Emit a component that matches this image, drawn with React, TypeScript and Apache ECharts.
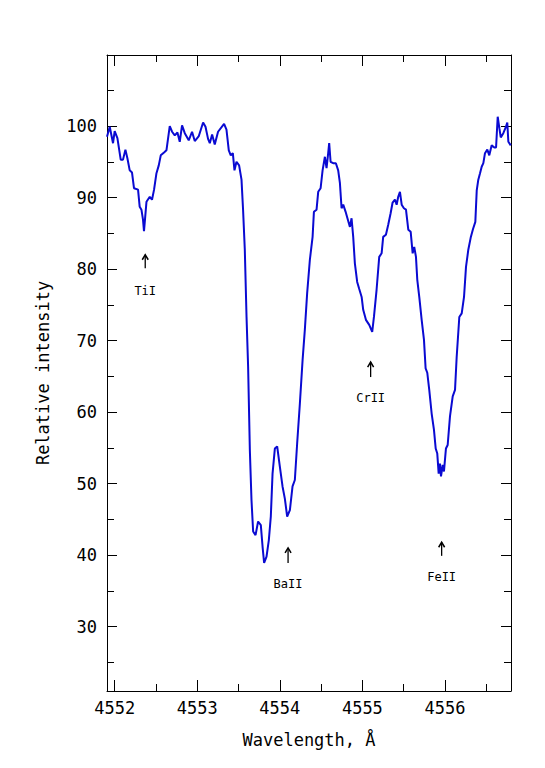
import React, { useEffect, useRef } from 'react';
import * as echarts from 'echarts';

// Spectrum (wavelength in Å, relative intensity)
const wavelength = [
  4551.907, 4551.94, 4551.98, 4552.0, 4552.033, 4552.073, 4552.101, 4552.13, 4552.154, 4552.182,
  4552.21, 4552.234, 4552.283, 4552.303, 4552.324, 4552.343, 4552.355, 4552.372, 4552.385, 4552.425,
  4552.452, 4552.477, 4552.506, 4552.534, 4552.558, 4552.598, 4552.627, 4552.667, 4552.695, 4552.728,
  4552.76, 4552.788, 4552.816, 4552.849, 4552.897, 4552.937, 4552.97, 4553.019, 4553.071, 4553.1,
  4553.131, 4553.152, 4553.18, 4553.212, 4553.252, 4553.325, 4553.354, 4553.382, 4553.406, 4553.431,
  4553.451, 4553.475, 4553.507, 4553.536, 4553.555, 4553.576, 4553.597, 4553.616, 4553.637, 4553.657,
  4553.677, 4553.706, 4553.737, 4553.77, 4553.791, 4553.81, 4553.839, 4553.867, 4553.891, 4553.912,
  4553.94, 4553.968, 4554.0, 4554.033, 4554.061, 4554.089, 4554.122, 4554.154, 4554.182, 4554.21,
  4554.243, 4554.276, 4554.303, 4554.331, 4554.364, 4554.397, 4554.413, 4554.445, 4554.465, 4554.494,
  4554.518, 4554.546, 4554.566, 4554.586, 4554.598, 4554.615, 4554.646, 4554.679, 4554.707, 4554.728,
  4554.748, 4554.768, 4554.797, 4554.819, 4554.849, 4554.869, 4554.889, 4554.909, 4554.937, 4554.962,
  4554.991, 4555.01, 4555.043, 4555.083, 4555.119, 4555.14, 4555.172, 4555.204, 4555.233, 4555.252,
  4555.285, 4555.313, 4555.342, 4555.366, 4555.394, 4555.415, 4555.434, 4555.455, 4555.476, 4555.503,
  4555.528, 4555.556, 4555.585, 4555.609, 4555.628, 4555.649, 4555.665, 4555.689, 4555.718, 4555.746,
  4555.766, 4555.786, 4555.81, 4555.839, 4555.867, 4555.888, 4555.907, 4555.924, 4555.94, 4555.952,
  4555.973, 4555.988, 4556.012, 4556.033, 4556.061, 4556.094, 4556.122, 4556.142, 4556.174, 4556.203,
  4556.231, 4556.255, 4556.283, 4556.312, 4556.34, 4556.368, 4556.385, 4556.404, 4556.425, 4556.445,
  4556.465, 4556.485, 4556.513, 4556.537, 4556.566, 4556.598, 4556.619, 4556.639, 4556.659, 4556.676,
  4556.707, 4556.736, 4556.755, 4556.768, 4556.797,
];
const intensity = [
  98.5, 99.9, 97.6, 99.3, 98.3, 95.3, 95.3, 96.7, 95.5, 93.8,
  93.5, 91.3, 91.1, 88.7, 88.3, 86.9, 85.3, 87.6, 89.4, 90.1,
  89.7, 91.1, 93.4, 94.5, 95.9, 96.3, 96.6, 100.0, 99.2, 98.7,
  99.1, 97.8, 100.1, 99.0, 98.0, 99.2, 97.9, 98.6, 100.5, 99.9,
  98.2, 97.6, 98.8, 97.4, 99.2, 100.3, 99.5, 96.6, 95.9, 96.2,
  93.8, 95.0, 94.5, 92.5, 88.3, 82.7, 73.3, 66.4, 54.7, 47.7,
  43.3, 42.8, 44.7, 44.2, 41.2, 38.9, 39.8, 42.1, 45.4, 51.4,
  54.9, 55.2, 52.4, 49.6, 47.9, 45.4, 46.3, 49.6, 50.5, 55.6,
  61.2, 67.3, 71.5, 76.6, 81.3, 84.5, 88.0, 88.3, 90.8, 91.3,
  93.8, 95.7, 94.1, 96.2, 97.6, 95.0, 94.8, 94.8, 93.8, 92.0,
  88.5, 89.0, 88.0, 87.1, 85.9, 87.1, 84.5, 80.8, 78.2, 77.2,
  76.1, 74.3, 72.9, 72.2, 71.2, 73.3, 77.1, 81.7, 82.2, 84.5,
  84.8, 86.2, 87.8, 89.3, 89.7, 89.0, 90.1, 90.8, 89.0, 88.5,
  88.3, 85.5, 85.2, 82.2, 83.1, 81.7, 78.5, 76.1, 72.9, 70.1,
  66.1, 65.5, 63.1, 59.8, 57.5, 54.9, 54.2, 51.4, 52.8, 51.0,
  52.6, 51.7, 54.9, 55.4, 59.4, 62.2, 63.1, 67.7, 73.3, 73.8,
  76.1, 80.3, 82.7, 84.4, 85.6, 86.6, 91.0, 92.5, 93.4, 94.3,
  94.8, 96.2, 96.7, 95.9, 97.3, 97.0, 97.0, 101.3, 99.7, 98.4,
  99.0, 99.8, 100.5, 97.8, 97.3,
];

// Tick labels
const xTicks = [4552, 4553, 4554, 4555, 4556];
const yTicks = [30, 40, 50, 60, 70, 80, 90, 100];

// Line identifications
const lineNames = ['TiI', 'BaII', 'CrII', 'FeII'];
const lineWavelength = [4552.37, 4554.1, 4555.1, 4555.96];
const arrowTip = [82.0, 41.0, 67.0, 41.8];
const arrowBase = [80.1, 38.9, 64.9, 39.9];
const labelLevel = [76.9, 35.9, 62.0, 36.9];

const X_MIN = 4551.907;
const X_MAX = 4556.8;
const Y_MIN = 21;
const Y_MAX = 109.93;

const FONT = '"DejaVu Sans Mono", "Liberation Mono", monospace';

export default function App() {
  const ref = useRef<HTMLDivElement>(null);

  useEffect(() => {
    if (!ref.current) return;
    const chart = echarts.init(ref.current, undefined, { renderer: 'svg' });

    const baseX = {
      type: 'value' as const,
      min: X_MIN,
      max: X_MAX,
      minInterval: 1,
      maxInterval: 1,
      splitLine: { show: false },
      axisLine: { show: true, onZero: false, lineStyle: { color: '#000', width: 1 } },
      axisTick: { show: true, inside: true, length: 11, lineStyle: { color: '#000', width: 1 } },
      minorTick: { show: true, splitNumber: 2, length: 7, lineStyle: { color: '#000', width: 1 } },
    };
    const baseY = {
      type: 'value' as const,
      min: Y_MIN,
      max: Y_MAX,
      minInterval: 10,
      maxInterval: 10,
      splitLine: { show: false },
      axisLine: { show: true, onZero: false, lineStyle: { color: '#000', width: 1 } },
      axisTick: { show: true, inside: true, length: 10, lineStyle: { color: '#000', width: 1 } },
      minorTick: { show: true, splitNumber: 2, length: 7, lineStyle: { color: '#000', width: 1 } },
    };

    chart.setOption({
      animation: false,
      backgroundColor: '#fff',
      grid: { left: 107, top: 55, width: 404, height: 636 },
      xAxis: [
        {
          ...baseX,
          position: 'bottom',
          name: 'Wavelength, Å',
          nameLocation: 'middle',
          nameGap: 40,
          nameTextStyle: { fontFamily: FONT, fontSize: 17, color: '#000' },
          axisLabel: {
            show: true,
            margin: 8,
            fontFamily: FONT,
            fontSize: 17,
            color: '#000',
            showMinLabel: false,
            showMaxLabel: false,
            formatter: (v: number) => (xTicks.includes(v) ? String(v) : ''),
          },
        },
        { ...baseX, position: 'top', axisLabel: { show: false } },
      ],
      yAxis: [
        {
          ...baseY,
          position: 'left',
          name: 'Relative intensity',
          nameLocation: 'middle',
          nameGap: 56,
          nameTextStyle: { fontFamily: FONT, fontSize: 17, color: '#000' },
          axisLabel: {
            show: true,
            margin: 10,
            fontFamily: FONT,
            fontSize: 17,
            color: '#000',
            showMinLabel: false,
            showMaxLabel: false,
            formatter: (v: number) => (yTicks.includes(v) ? String(v) : ''),
          },
        },
        { ...baseY, position: 'right', axisLabel: { show: false } },
      ],
      series: [
        {
          type: 'line',
          xAxisIndex: 0,
          yAxisIndex: 0,
          data: wavelength.map((w, i) => [w, intensity[i]]),
          showSymbol: false,
          symbol: 'none',
          clip: true,
          lineStyle: { color: '#0a0ad2', width: 2 },
          silent: true,
        },
        {
          type: 'custom',
          xAxisIndex: 0,
          yAxisIndex: 0,
          silent: true,
          z: 5,
          data: lineNames.map((_, i) => [lineWavelength[i], arrowTip[i], arrowBase[i], labelLevel[i]]),
          renderItem: (params: any, api: any) => {
            const x = api.value(0);
            const tip = api.coord([x, api.value(1)]);
            const base = api.coord([x, api.value(2)]);
            const lab = api.coord([x, api.value(3)]);
            return {
              type: 'group',
              children: [
                {
                  type: 'line',
                  shape: { x1: tip[0], y1: tip[1], x2: base[0], y2: base[1] },
                  style: { stroke: '#000', lineWidth: 1.3 },
                },
                {
                  type: 'polyline',
                  shape: { points: [[tip[0] - 3, tip[1] + 5], [tip[0], tip[1]], [tip[0] + 3, tip[1] + 5]] },
                  style: { stroke: '#000', lineWidth: 1.5, fill: 'none' },
                },
                {
                  type: 'text',
                  x: lab[0],
                  y: lab[1],
                  style: {
                    text: lineNames[params.dataIndex],
                    fontFamily: FONT,
                    fontSize: 12,
                    fill: '#000',
                    align: 'center',
                    verticalAlign: 'middle',
                  },
                },
              ],
            };
          },
        },
      ],
    });

    return () => chart.dispose();
  }, []);

  return (
    <div
      ref={ref}
      style={{ position: 'absolute', left: 0, top: 0, width: 545, height: 768, background: '#fff' }}
    />
  );
}
